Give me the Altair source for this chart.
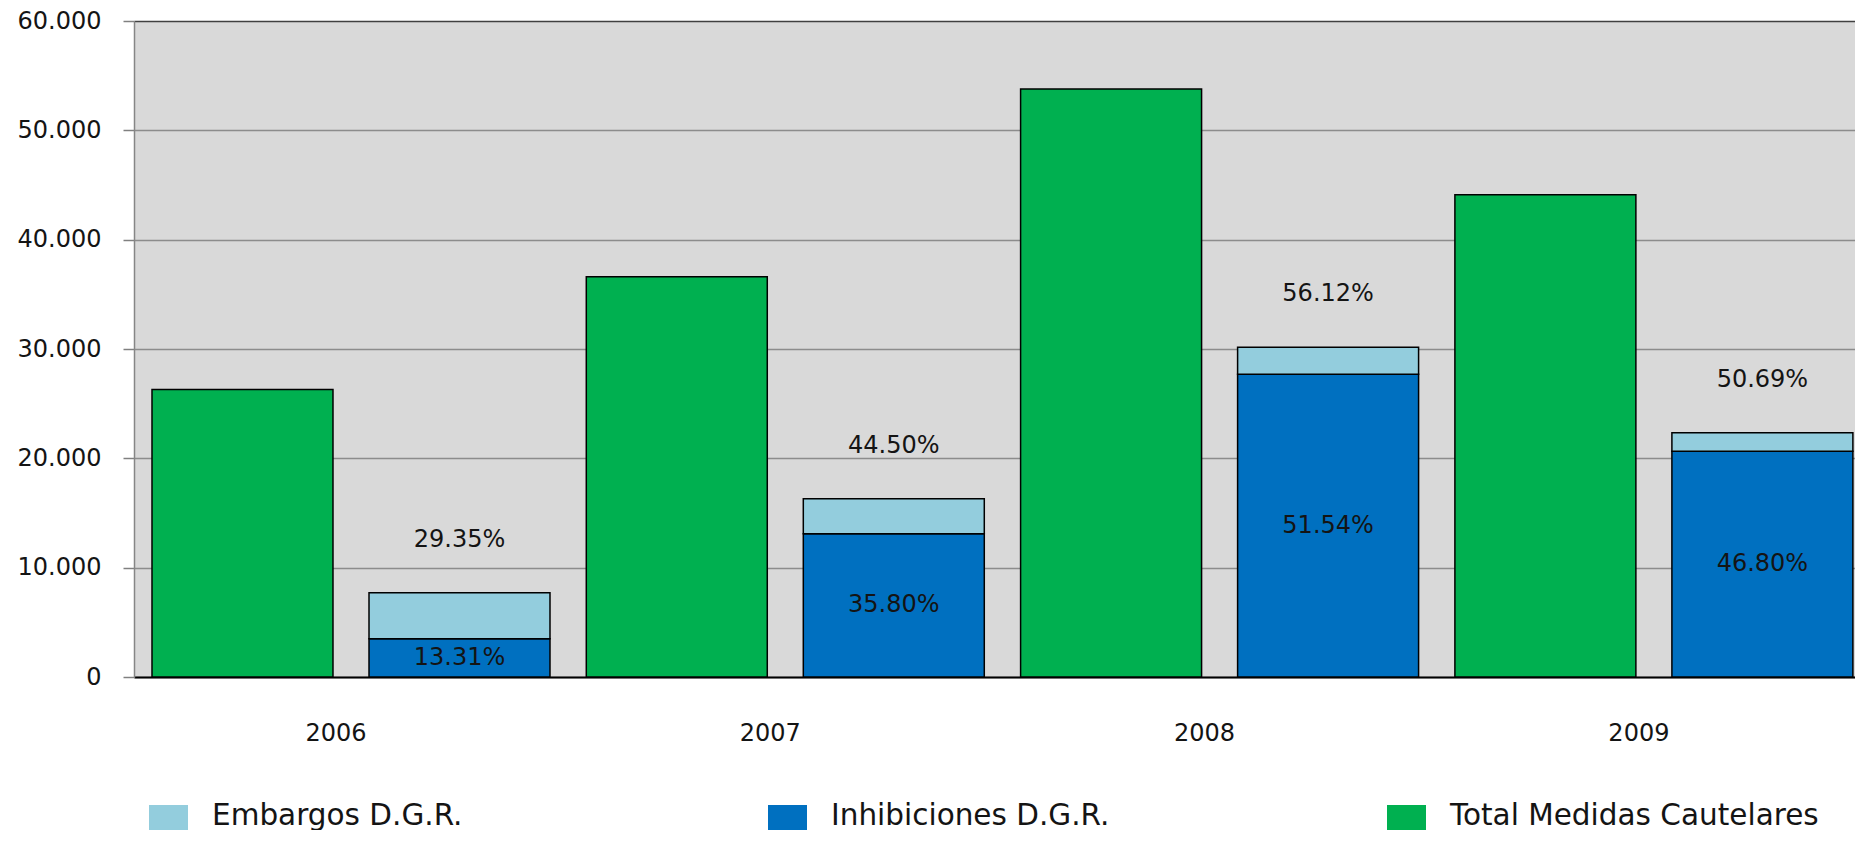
import altair as alt
import pandas as pd

# ---- data ----
years = ["2006", "2007", "2008", "2009"]
total_medidas = [26300, 36600, 53770, 44100]
inhibiciones = [3500, 13100, 27700, 20650]
embargos = [4200, 3200, 2450, 1700]
pct_inhib = ["13.31%", "35.80%", "51.54%", "46.80%"]
pct_dgr = ["29.35%", "44.50%", "56.12%", "50.69%"]

series = ["Embargos D.G.R.", "Inhibiciones D.G.R.", "Total Medidas Cautelares"]
colors = ["#93CDDD", "#0070C0", "#00B050"]

rows = []
for i, y in enumerate(years):
    rows.append({"year": y, "grp": "A", "serie": series[2], "y0": 0, "y1": total_medidas[i]})
    rows.append({"year": y, "grp": "B", "serie": series[1], "y0": 0, "y1": inhibiciones[i]})
    rows.append({"year": y, "grp": "B", "serie": series[0], "y0": inhibiciones[i],
                 "y1": inhibiciones[i] + embargos[i]})
bars_df = pd.DataFrame(rows)

lab_df = pd.DataFrame({
    "year": years,
    "grp": ["B"] * 4,
    "top": [a + b for a, b in zip(inhibiciones, embargos)],
    "mid": [a / 2 for a in inhibiciones],
    "lbl_top": pct_dgr,
    "lbl_in": pct_inhib,
})

FONT = "DejaVu Sans"
TXT = "#141414"

x_scale = alt.Scale(paddingInner=0.0836, paddingOuter=0.02315, align=0.895)
xo_scale = alt.Scale(domain=["A", "B"], paddingInner=0.166, paddingOuter=0)
y_scale = alt.Scale(domain=[0, 60000], nice=False)

x_enc = alt.X("year:N", scale=x_scale, sort=years,
              axis=alt.Axis(title=None, labelAngle=0, ticks=False, tickSize=0,
                            labelPadding=44, labelOffset=-15, labelFontSize=24,
                            labelFont=FONT, labelColor=TXT, domainColor="#000000",
                            domainWidth=2, grid=False))
xo_enc = alt.XOffset("grp:N", scale=xo_scale)

y_axis = alt.Axis(
    title=None,
    values=[0, 10000, 20000, 30000, 40000, 50000, 60000],
    labelExpr="replace(format(datum.value, ',d'), ',', '.')",
    tickSize=11, tickColor="#808080", tickWidth=1.5,
    labelPadding=22, labelFontSize=24, labelFont=FONT, labelColor=TXT,
    domainColor="#868686", domainWidth=1.5,
    grid=True, gridWidth=1.5,
    gridColor={"condition": {"test": "datum.value === 60000", "value": "#404040"},
               "value": "#8C8C8C"},
)

bars = alt.Chart(bars_df).mark_bar(stroke="#000000", strokeWidth=1.5).encode(
    x=x_enc,
    xOffset=xo_enc,
    y=alt.Y("y1:Q", scale=y_scale, axis=y_axis),
    y2="y0:Q",
    color=alt.Color("serie:N",
                    scale=alt.Scale(domain=series, range=colors),
                    legend=alt.Legend(
                        title=None, orient="none", legendX=15, legendY=784,
                        direction="horizontal", symbolType="square",
                        symbolSize=1521, symbolStrokeWidth=0,
                        symbolStrokeColor="transparent", symbolOpacity=1,
                        labelFontSize=29.5, labelFont=FONT, labelColor=TXT,
                        labelOffset=24, labelLimit=1000, columnPadding=187,
                        gridAlign="all",
                        labelBaseline="alphabetic", padding=0)),
)

top_labels = alt.Chart(lab_df).mark_text(
    fontSize=24, font=FONT, color=TXT, baseline="middle", dy=-53
).encode(
    x=alt.X("year:N", scale=x_scale, sort=years),
    xOffset=xo_enc,
    y=alt.Y("top:Q", scale=y_scale),
    text="lbl_top:N",
)

in_labels = alt.Chart(lab_df).mark_text(
    fontSize=24, font=FONT, color=TXT, baseline="middle", dy=0
).encode(
    x=alt.X("year:N", scale=x_scale, sort=years),
    xOffset=xo_enc,
    y=alt.Y("mid:Q", scale=y_scale),
    text="lbl_in:N",
)

chart = alt.layer(bars, top_labels, in_labels).properties(
    width=1721,
    height=656,
    autosize=alt.AutoSizeParams(type="none"),
    padding={"left": 126, "top": 13, "right": 0, "bottom": 153},
    background="#FFFFFF",
).configure_view(
    fill="#D9D9D9", stroke=None
)

chart.save("out.html", embed_options={"renderer": "svg", "actions": False})
